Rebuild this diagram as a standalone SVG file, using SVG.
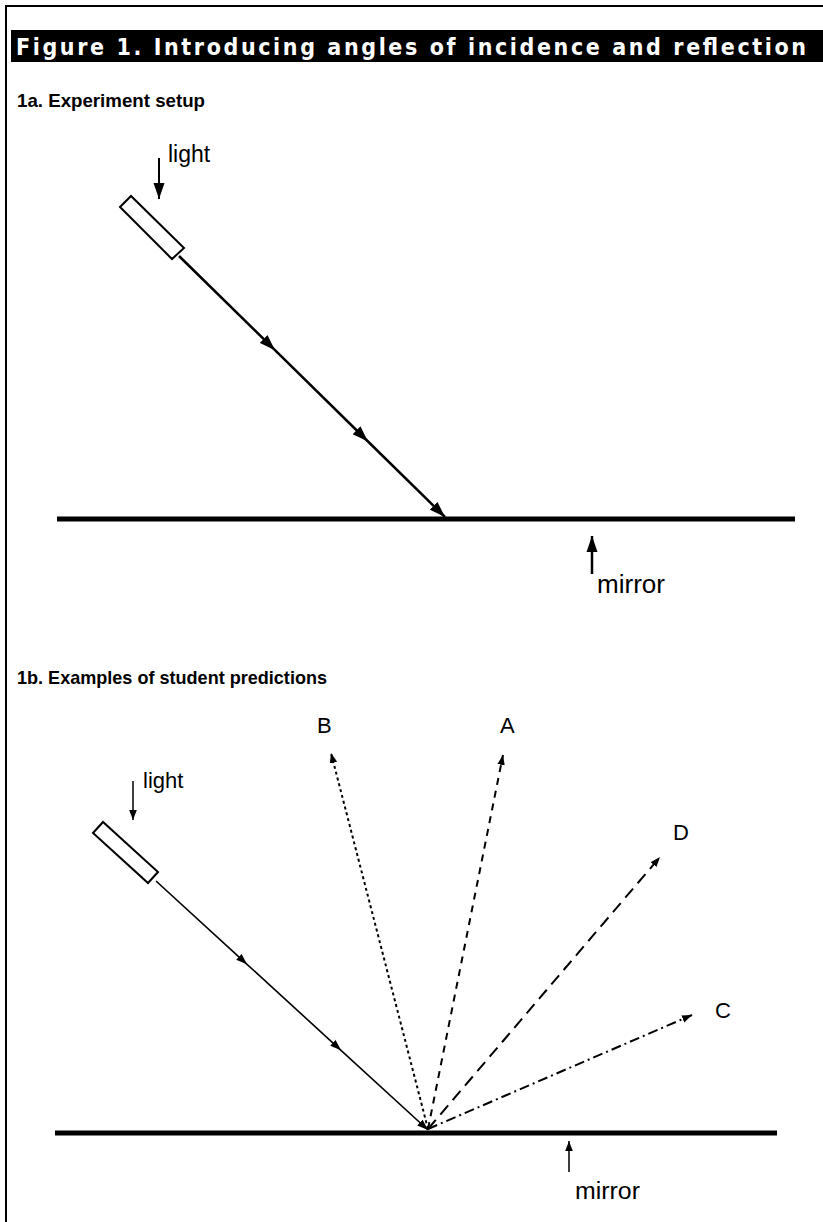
<svg xmlns="http://www.w3.org/2000/svg" width="823" height="1222" viewBox="0 0 823 1222">
<style>
.lbl{font-family:"Liberation Sans",Arial,sans-serif;fill:#000}
.hd{font-family:"Liberation Sans",Arial,sans-serif;font-weight:bold;fill:#000}
.ttl{font-family:"DejaVu Sans Condensed","Liberation Sans",sans-serif;font-weight:bold;fill:#fff}
.ray{fill:none;stroke:#000}
.box{fill:#fff;stroke:#000;stroke-width:2}
.mirror{stroke:#000;stroke-width:5}
</style>
<defs>
<marker id="bigHead" viewBox="-16 -6 16 12" markerWidth="16" markerHeight="12" refX="0" refY="0" orient="auto" markerUnits="userSpaceOnUse"><path d="M0,0 L-16,-5.5 L-16,5.5 z" fill="#000"/></marker>
<marker id="smallHead" viewBox="-11 -4 11 8" markerWidth="11" markerHeight="8" refX="0" refY="0" orient="auto" markerUnits="userSpaceOnUse"><path d="M0,0 L-11,-4 L-11,4 z" fill="#000"/></marker>
<marker id="tinyHead" viewBox="-10 -4 10 8" markerWidth="10" markerHeight="8" refX="0" refY="0" orient="auto" markerUnits="userSpaceOnUse"><path d="M0,0 L-10,-3.8 L-10,3.8 z" fill="#000"/></marker>
</defs>
<rect width="823" height="1222" fill="#fff"/>
<g id="frame">
<path d="M6,1222 V6 H823" fill="none" stroke="#000" stroke-width="2"/>
<rect x="11" y="30" width="812" height="32" fill="#000"/>
<text class="ttl" x="16" y="55" font-size="23" textLength="790" lengthAdjust="spacing">Figure 1. Introducing angles of incidence and reflection</text>
</g>
<g id="heading-1a"><text class="hd" x="17" y="107" font-size="19" textLength="188" lengthAdjust="spacingAndGlyphs">1a. Experiment setup</text></g>
<g id="light-1a">
<polygon class="box" points="120,207 131,196 184,248 172,259"/>
<text class="lbl" x="168" y="162" font-size="23">light</text>
</g>
<g id="mirror-1a">
<line class="mirror" x1="57" y1="519" x2="795" y2="519"/>
<text class="lbl" x="597" y="593" font-size="25" textLength="68" lengthAdjust="spacingAndGlyphs">mirror</text>
</g>
<g id="heading-1b"><text class="hd" x="17" y="684" font-size="19" textLength="310" lengthAdjust="spacingAndGlyphs">1b. Examples of student predictions</text></g>
<g id="light-1b">
<polygon class="box" points="93,833 103,822 158,872 148,883"/>
<text class="lbl" x="143" y="788" font-size="22">light</text>
</g>
<g id="mirror-1b">
<line class="mirror" x1="55" y1="1133" x2="777" y2="1133"/>
<text class="lbl" x="575" y="1199" font-size="23" textLength="65" lengthAdjust="spacingAndGlyphs">mirror</text>
</g>
<g id="label-B"><text class="lbl" x="317" y="733" font-size="22">B</text></g>
<g id="label-A"><text class="lbl" x="500" y="733" font-size="22">A</text></g>
<g id="label-D"><text class="lbl" x="673" y="840" font-size="22">D</text></g>
<g id="label-C"><text class="lbl" x="715" y="1018" font-size="22">C</text></g>
<g id="connectors">
<line class="ray" x1="159" y1="158" x2="159" y2="199" stroke-width="2" marker-end="url(#bigHead)"/>
<polyline class="ray" points="179,256 275,350.2 368,441.5 445,517" stroke-width="2.5" marker-mid="url(#bigHead)" marker-end="url(#bigHead)"/>
<line class="ray" x1="592" y1="574" x2="592" y2="536" stroke-width="2.5" marker-end="url(#bigHead)"/>
<line class="ray" x1="133" y1="781" x2="133" y2="820" stroke-width="1.5" marker-end="url(#tinyHead)"/>
<polyline class="ray" points="156,881 247,964.3 341,1050.3 428,1130" stroke-width="1.6" marker-mid="url(#smallHead)" marker-end="url(#smallHead)"/>
<line class="ray" x1="428" y1="1129" x2="331" y2="753" stroke-width="2" stroke-dasharray="3,3" marker-end="url(#tinyHead)"/>
<line class="ray" x1="428" y1="1129" x2="503" y2="755" stroke-width="2" stroke-dasharray="7,6" marker-end="url(#tinyHead)"/>
<line class="ray" x1="428" y1="1129" x2="660" y2="857" stroke-width="2" stroke-dasharray="12,7" marker-end="url(#tinyHead)"/>
<line class="ray" x1="428" y1="1129" x2="692" y2="1015" stroke-width="2" stroke-dasharray="10,4,2,4" marker-end="url(#tinyHead)"/>
<line class="ray" x1="569" y1="1172" x2="569" y2="1141" stroke-width="1.5" marker-end="url(#tinyHead)"/>
</g>
</svg>
